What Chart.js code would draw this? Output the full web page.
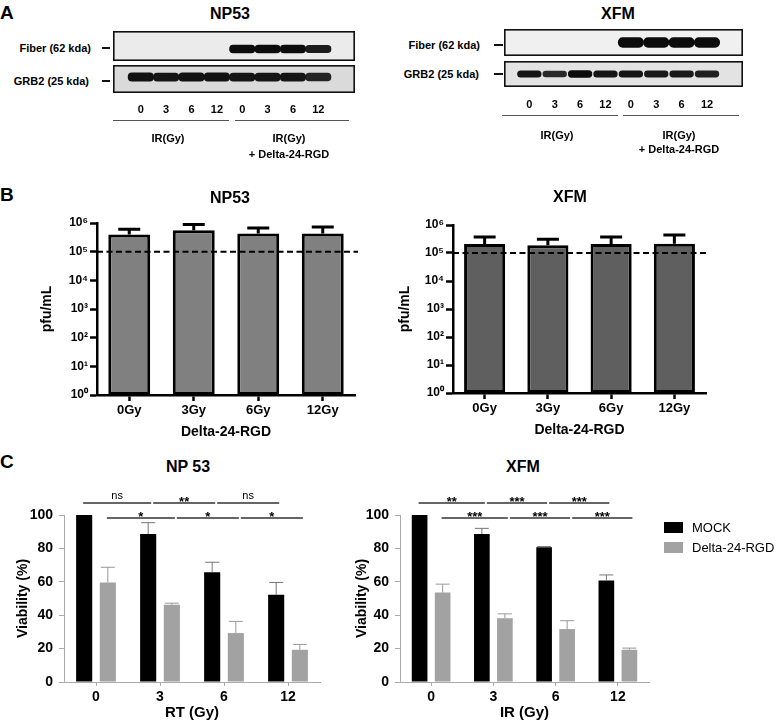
<!DOCTYPE html>
<html>
<head>
<meta charset="utf-8">
<script src="https://cdn.jsdelivr.net/npm/chart.js@4.4.1/dist/chart.umd.min.js"></script>
<style>
html, body { margin: 0; padding: 0; background: #fff; overflow: hidden; }
#fig { position: relative; width: 777px; height: 722px; font-family: "Liberation Sans", Arial, sans-serif; color: #000; }
#fig canvas { position: absolute; }
.lbl { position: absolute; white-space: nowrap; font-weight: bold; line-height: 1; }
.bar { position: absolute; }
</style>
</head>
<body>
<div id="fig"></div>
<script>
/* A: western blot band intensities per lane */
const lanes = ["0", "3", "6", "12", "0", "3", "6", "12"];
const fiberNP53 = [0, 0, 0, 0, 1, 1, 1, 0.85];
const grb2NP53 = [0.95, 0.9, 0.95, 0.95, 0.9, 0.9, 0.9, 0.75];
const fiberXFM = [0, 0, 0, 0, 1, 1, 1, 1];
const grb2XFM = [0.9, 0.7, 1, 0.9, 0.9, 0.85, 0.85, 0.8];

/* B: viral titer (pfu/mL) */
const doses = ["0Gy", "3Gy", "6Gy", "12Gy"];
const titerNP53 = [4.0e5, 5.6e5, 4.3e5, 4.3e5];
const titerNP53Sd = [2.1e5, 3.3e5, 2.4e5, 3.0e5];
const titerXFM = [2.1e5, 1.9e5, 2.1e5, 2.15e5];
const titerXFMSd = [1.6e5, 1.2e5, 1.6e5, 2.2e5];
const titerTicks = [1, 10, 100, 1e3, 1e4, 1e5, 1e6];
const titerLimit = 1e5;

/* C: viability (%) */
const gy = ["0", "3", "6", "12"];
const mockNP53 = [100, 88.6, 65.7, 52.2];
const mockNP53Sd = [0, 6.8, 6.0, 7.4];
const virusNP53 = [59.6, 46.2, 29.3, 19.3];
const virusNP53Sd = [9.1, 1.0, 7.0, 3.2];
const mockXFM = [100, 88.6, 80.7, 60.8];
const mockXFMSd = [0, 3.4, 0.4, 3.3];
const virusXFM = [53.6, 38.2, 31.7, 19.3];
const virusXFMSd = [5.0, 2.6, 5.0, 1.0];
const sigNP53Mock = ["ns", "**", "ns"];
const sigNP53Virus = ["*", "*", "*"];
const sigXFMMock = ["**", "***", "***"];
const sigXFMVirus = ["***", "***", "***"];

Chart.defaults.font.family = '"Liberation Sans", Arial, sans-serif';
Chart.defaults.color = '#000';

const fig = document.getElementById('fig');
const sup = ['⁰', '¹', '²', '³', '⁴', '⁵', '⁶'];

function addCanvas(l, t, w, h) {
    const c = document.createElement('canvas');
    c.width = w; c.height = h;
    c.style.left = l + 'px'; c.style.top = t + 'px';
    c.style.width = w + 'px'; c.style.height = h + 'px';
    fig.appendChild(c);
    return c;
}

function text(str, x, y, size, align, weight) {
    const d = document.createElement('div');
    d.className = 'lbl';
    d.textContent = str;
    d.style.left = x + 'px';
    d.style.top = y + 'px';
    d.style.fontSize = size + 'px';
    if (weight) d.style.fontWeight = weight;
    const tx = align === 'right' ? '-100%' : align === 'left' ? '0' : '-50%';
    d.style.transform = 'translate(' + tx + ',-50%)';
    fig.appendChild(d);
}

function line(x1, x2, y, h, color) {
    const d = document.createElement('div');
    d.className = 'bar';
    d.style.left = x1 + 'px'; d.style.top = (y - h / 2) + 'px';
    d.style.width = (x2 - x1) + 'px'; d.style.height = h + 'px';
    d.style.background = color;
    fig.appendChild(d);
}

/* plugins */
const frame = {
    id: 'frame',
    beforeDatasetsDraw(chart, args, opts) {
        const a = chart.chartArea, ctx = chart.ctx;
        ctx.save();
        ctx.fillStyle = opts.bg;
        ctx.fillRect(a.left, a.top, a.right - a.left, a.bottom - a.top);
        ctx.restore();
    },
    afterDatasetsDraw(chart) {
        const a = chart.chartArea, ctx = chart.ctx;
        ctx.save();
        ctx.strokeStyle = '#111';
        ctx.lineWidth = 1.6;
        ctx.strokeRect(a.left + 0.8, a.top + 0.8, a.right - a.left - 1.6, a.bottom - a.top - 1.6);
        ctx.restore();
    }
};

const errorBars = {
    id: 'errorBars',
    afterDatasetsDraw(chart) {
        const ctx = chart.ctx, y = chart.scales.y;
        chart.data.datasets.forEach((ds, di) => {
            if (!ds.errors) return;
            const st = ds.errorStyle;
            ctx.save();
            ctx.strokeStyle = st.color;
            ctx.lineWidth = st.width;
            chart.getDatasetMeta(di).data.forEach((bar, i) => {
                const e = ds.errors[i];
                if (!e) return;
                const top = y.getPixelForValue(ds.data[i] + e);
                ctx.beginPath();
                ctx.moveTo(bar.x, bar.y);
                ctx.lineTo(bar.x, top);
                ctx.moveTo(bar.x - st.cap / 2, top);
                ctx.lineTo(bar.x + st.cap / 2, top);
                ctx.stroke();
            });
            ctx.restore();
        });
    }
};

const refLine = {
    id: 'refLine',
    afterDatasetsDraw(chart, args, opts) {
        if (opts.value == null) return;
        const { ctx, chartArea } = chart;
        const py = chart.scales.y.getPixelForValue(opts.value);
        ctx.save();
        ctx.setLineDash([6, 3.5]);
        ctx.lineWidth = 2;
        ctx.strokeStyle = '#000';
        ctx.beginPath();
        ctx.moveTo(chartArea.left, py);
        ctx.lineTo(chartArea.right + 3, py);
        ctx.stroke();
        ctx.restore();
    }
};

const sigBars = {
    id: 'sigBars',
    afterDraw(chart) {
        const { ctx, chartArea } = chart;
        const rowY = [chartArea.top - 12, chartArea.top + 3];
        chart.data.datasets.forEach((ds, r) => {
            if (!ds.sig) return;
            const bars = chart.getDatasetMeta(r).data;
            const ly = rowY[r];
            ds.sig.forEach((lab, k) => {
                const x1 = bars[k].x + (k ? 5 : -1);
                const x2 = bars[k + 1].x + 3;
                ctx.save();
                ctx.strokeStyle = '#666';
                ctx.lineWidth = 1.8;
                ctx.beginPath();
                ctx.moveTo(x1, ly);
                ctx.lineTo(x2, ly);
                ctx.stroke();
                ctx.fillStyle = '#000';
                ctx.textAlign = 'center';
                ctx.textBaseline = 'alphabetic';
                if (lab === 'ns') {
                    ctx.font = '11px "Liberation Sans", Arial, sans-serif';
                    ctx.fillText(lab, (x1 + x2) / 2, ly - 4);
                } else {
                    ctx.font = 'bold 13px "Liberation Sans", Arial, sans-serif';
                    ctx.fillText(lab, (x1 + x2) / 2, ly + 3);
                }
                ctx.restore();
            });
        });
    }
};

const sideLegend = {
    id: 'sideLegend',
    afterDraw(chart, args, opts) {
        if (!opts.show) return;
        const { ctx, chartArea } = chart;
        chart.data.datasets.forEach((ds, i) => {
            const x = chartArea.right + 15, y = chartArea.top + 7 + i * 20;
            ctx.save();
            ctx.fillStyle = ds.backgroundColor;
            ctx.fillRect(x, y, 19, 11);
            ctx.fillStyle = '#000';
            ctx.font = '13px "Liberation Sans", Arial, sans-serif';
            ctx.textBaseline = 'middle';
            ctx.fillText(ds.label, x + 28, y + 6);
            ctx.restore();
        });
    }
};

/* A: blot strips */
function blotChart(canvas, bands, cfg) {
    return new Chart(canvas, {
        type: 'bar',
        data: {
            datasets: [{
                data: bands.map((v, i) => {
                    const h = cfg.half * (0.7 + 0.3 * v);
                    return { x: i, y: [cfg.mid - h, cfg.mid + h], v: v };
                }).filter(p => p.v > 0),
                backgroundColor: c => c.raw ? 'rgba(12,12,12,' + (0.55 + 0.45 * c.raw.v) + ')' : '#111',
                borderRadius: cfg.round,
                borderSkipped: false,
                barPercentage: cfg.fillLane,
                categoryPercentage: 1
            }]
        },
        options: {
            responsive: false, animation: false, events: [],
            layout: { padding: 0 },
            plugins: { legend: { display: false }, tooltip: { enabled: false }, frame: { bg: cfg.bg } },
            scales: {
                x: {
                    type: 'linear', min: cfg.min, max: cfg.max, display: cfg.showLanes,
                    afterBuildTicks: s => { s.ticks = lanes.map((l, i) => ({ value: i })); },
                    ticks: { callback: v => lanes[v], font: { size: 11, weight: 'bold' }, padding: cfg.pad || 0, maxRotation: 0, autoSkip: false },
                    grid: { display: false, drawTicks: false },
                    border: { display: false },
                    afterFit: s => { s.height = cfg.showLanes ? 28 : 0; }
                },
                y: { display: false, min: 0, max: 1 }
            }
        },
        plugins: [frame]
    });
}

blotChart(addCanvas(113, 31, 242, 30), fiberNP53, { mid: 0.4, half: 0.13, bg: '#ebebeb', min: -0.5, max: 7.85, showLanes: false, fillLane: 1, round: 4 });
blotChart(addCanvas(113, 65, 242, 56), grb2NP53, { mid: 0.57, half: 0.15, bg: '#dadada', min: -0.5, max: 7.85, showLanes: true, pad: 10, fillLane: 1, round: 4 });
blotChart(addCanvas(504, 29, 239, 27), fiberXFM, { mid: 0.5, half: 0.18, bg: '#f0f0f0', min: -0.41, max: 7.83, showLanes: false, fillLane: 1, round: 5 });
blotChart(addCanvas(504, 61, 239, 54), grb2XFM, { mid: 0.5, half: 0.14, bg: '#e3e3e3', min: -0.41, max: 7.83, showLanes: true, pad: 11, fillLane: 0.96, round: 6 });

/* B: titers */
function titerChart(canvas, values, sd, fill, yWidth, topPad) {
    return new Chart(canvas, {
        type: 'bar',
        data: {
            labels: doses,
            datasets: [{
                data: values,
                errors: sd,
                errorStyle: { color: '#000', width: 3, cap: 22 },
                backgroundColor: fill,
                borderColor: '#000',
                borderWidth: 3,
                borderSkipped: false,
                barPercentage: 0.65,
                categoryPercentage: 1
            }]
        },
        options: {
            responsive: false, animation: false, events: [],
            layout: { padding: { top: topPad, right: 10, left: 0, bottom: 0 } },
            plugins: { legend: { display: false }, tooltip: { enabled: false }, refLine: { value: titerLimit } },
            scales: {
                x: {
                    grid: { drawOnChartArea: false, offset: false, tickLength: 6, tickColor: '#000', tickWidth: 2.5 },
                    border: { color: '#000', width: 2.5 },
                    ticks: { font: { size: 13, weight: 'bold' }, color: '#000', padding: 2 },
                    title: { display: true, text: 'Delta-24-RGD', font: { size: 14, weight: 'bold' }, color: '#000', padding: { top: 0, bottom: 4 } },
                    afterFit: s => { s.height = 50; }
                },
                y: {
                    type: 'logarithmic', min: 1, max: 1e6,
                    afterBuildTicks: s => { s.ticks = titerTicks.map(v => ({ value: v })); },
                    ticks: { callback: v => '10' + sup[Math.round(Math.log10(v))], font: { size: 12, weight: 'bold' }, color: '#000', padding: 2 },
                    grid: { drawOnChartArea: false, tickLength: 7, tickColor: '#000', tickWidth: 2.5 },
                    border: { color: '#000', width: 2.5 },
                    title: { display: true, text: 'pfu/mL', font: { size: 14, weight: 'bold' }, color: '#000', padding: { top: 4, bottom: 4 } },
                    afterFit: s => { s.width = yWidth; }
                }
            }
        },
        plugins: [errorBars, refLine]
    });
}

titerChart(addCanvas(35, 205, 330, 240), titerNP53, titerNP53Sd, '#808080', 62, 18);
titerChart(addCanvas(393, 205, 323, 238), titerXFM, titerXFMSd, '#5f5f5f', 60, 20);

/* C: viability */
function viabilityChart(canvas, sets, xTitle, yWidth, padRight, showLegend) {
    return new Chart(canvas, {
        type: 'bar',
        data: {
            labels: gy,
            datasets: [
                { label: 'MOCK', data: sets[0], errors: sets[1], sig: sets[4], errorStyle: { color: '#777', width: 1, cap: 14 },
                  backgroundColor: '#000', barPercentage: 0.68, categoryPercentage: 0.74 },
                { label: 'Delta-24-RGD', data: sets[2], errors: sets[3], sig: sets[5], errorStyle: { color: '#999', width: 1, cap: 14 },
                  backgroundColor: '#a2a2a2', barPercentage: 0.68, categoryPercentage: 0.74 }
            ]
        },
        options: {
            responsive: false, animation: false, events: [],
            layout: { padding: { top: 27, right: padRight, left: 0, bottom: 0 } },
            plugins: { legend: { display: false }, tooltip: { enabled: false }, sideLegend: { show: showLegend } },
            scales: {
                x: {
                    grid: { drawOnChartArea: false, offset: false, tickLength: 4, tickColor: '#aaa' },
                    border: { color: '#aaa', width: 1 },
                    ticks: { font: { size: 14, weight: 'bold' }, color: '#000', padding: 3 },
                    title: { display: true, text: xTitle, font: { size: 15, weight: 'bold' }, color: '#000', padding: { top: 0, bottom: 0 } },
                    afterFit: s => { s.height = 40; }
                },
                y: {
                    min: 0, max: 100,
                    ticks: { stepSize: 20, font: { size: 14, weight: 'bold' }, color: '#000', padding: 6 },
                    grid: { drawOnChartArea: false, tickLength: 5, tickColor: '#aaa' },
                    border: { color: '#aaa', width: 1 },
                    title: { display: true, text: 'Viability (%)', font: { size: 14, weight: 'bold' }, color: '#000', padding: { top: 4, bottom: 4 } },
                    afterFit: s => { s.width = yWidth; }
                }
            }
        },
        plugins: [errorBars, sigBars, sideLegend]
    });
}

viabilityChart(addCanvas(11, 488, 319, 234), [mockNP53, mockNP53Sd, virusNP53, virusNP53Sd, sigNP53Mock, sigNP53Virus], 'RT (Gy)', 53, 10, false);
viabilityChart(addCanvas(350, 488, 427, 234), [mockXFM, mockXFMSd, virusXFM, virusXFMSd, sigXFMMock, sigXFMVirus], 'IR (Gy)', 50, 128, true);

/* text labels */
text('A', 0, 12, 19, 'left');
text('B', 0, 194, 19, 'left');
text('C', 0, 461, 19, 'left');

text('NP53', 230, 14, 16);
text('XFM', 618, 14, 16);
text('NP53', 230, 198, 16);
text('XFM', 570, 197, 16);
text('NP 53', 188, 467, 16);
text('XFM', 523, 467, 16);

text('Fiber (62 kda)', 91, 48, 11, 'right');
text('GRB2 (25 kda)', 89, 81, 11, 'right');
line(102, 110, 48, 2, '#111');
line(102, 110, 81, 2, '#111');
text('Fiber (62 kda)', 480, 45, 11, 'right');
text('GRB2 (25 kda)', 479, 74, 11, 'right');
line(494, 503, 45, 2, '#111');
line(494, 503, 74, 2, '#111');

line(113, 229, 120, 1, '#555');
line(235, 349, 120, 1, '#555');
text('IR(Gy)', 168, 138, 11);
text('IR(Gy)', 289, 138, 11);
text('+ Delta-24-RGD', 289, 154, 11);

line(502, 618, 115, 1, '#555');
line(623, 739, 115, 1, '#555');
text('IR(Gy)', 557, 135, 11);
text('IR(Gy)', 679, 135, 11);
text('+ Delta-24-RGD', 679, 149, 11);
</script>
</body>
</html>
